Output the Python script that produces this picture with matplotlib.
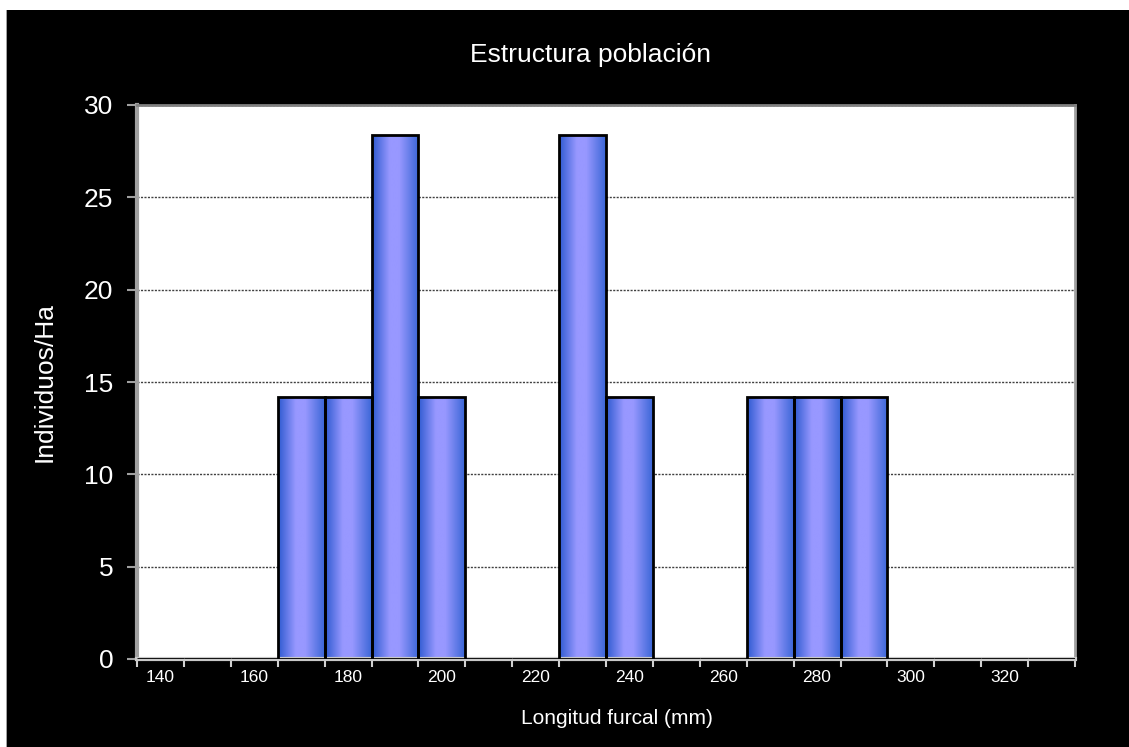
import numpy as np
import matplotlib
matplotlib.use('Agg')
import matplotlib.pyplot as plt
from matplotlib.colors import LinearSegmentedColormap
from matplotlib.patches import Rectangle

plt.rcParams['font.family'] = ['Liberation Sans', 'DejaVu Sans']

# Data: fork length classes (mm) and individuals per hectare
classes = [140, 150, 160, 170, 180, 190, 200, 210, 220, 230,
           240, 250, 260, 270, 280, 290, 300, 310, 320, 330]
density = [0, 0, 0, 14.2, 14.2, 28.4, 14.2, 0, 0, 28.4,
           14.2, 0, 0, 14.2, 14.2, 14.2, 0, 0, 0, 0]
y_ticks = [0, 5, 10, 15, 20, 25, 30]

fig = plt.figure(figsize=(11.29, 7.47), dpi=100)
fig.patch.set_facecolor('black')
# white strips at top and left edge of the image
fig.patches.append(Rectangle((0, 1 - 10 / 747), 1, 10 / 747, transform=fig.transFigure,
                             facecolor='white', edgecolor='none', zorder=0))
fig.patches.append(Rectangle((0, 0), 6 / 1129, 1, transform=fig.transFigure,
                             facecolor='white', edgecolor='none', zorder=0))
fig.patches.append(Rectangle((6 / 1129, 0), 1 / 1129, 1 - 10 / 747, transform=fig.transFigure,
                             facecolor='#a0a0a0', edgecolor='none', zorder=0))

ax = fig.add_axes([137 / 1129, 88 / 747, 938 / 1129, 554 / 747])
ax.set_facecolor('white')

x = np.arange(len(classes))
bars = ax.bar(x, density, width=1, facecolor='none', edgecolor='black', linewidth=2, zorder=3)

# horizontal gradient fill inside each bar
cmap = LinearSegmentedColormap.from_list('bar', [(0, '#2d5ad0'), (0.38, '#9898ff'),
                                                  (0.58, '#9898ff'), (1, '#3a66d6')])
grad = np.linspace(0, 1, 256).reshape(1, -1)
for b in bars:
    if b.get_height() <= 0:
        continue
    x0 = b.get_x()
    im = ax.imshow(grad, cmap=cmap, extent=(x0, x0 + b.get_width(), 0, b.get_height()),
                   aspect='auto', zorder=2, interpolation='bilinear')
    im.set_clip_path(b)

ax.set_xlim(-0.5, len(classes) - 0.5)
ax.set_ylim(0, 30)
ax.set_aspect('auto')

# x axis: ticks at class boundaries, labels on every other class
ax.set_xticks(np.arange(-0.5, len(classes), 1))
ax.set_xticklabels([])
ax.set_xticks(x[::2], minor=True)
ax.set_xticklabels([str(c) for c in classes[::2]], minor=True)
ax.tick_params(axis='x', which='major', direction='out', length=6, width=1.5, color='#d0d0d0')
ax.tick_params(axis='x', which='minor', length=0, pad=8, labelsize=12.5, labelcolor='white')

ax.set_yticks(y_ticks)
ax.tick_params(axis='y', direction='out', length=7, width=1.5, color='#a0a0a0',
               labelsize=19, labelcolor='white', pad=10)

ax.yaxis.grid(True, linestyle=(0, (1.5, 1)), color='#404040', linewidth=1, zorder=1)
ax.set_axisbelow(True)

ax.spines['top'].set_color('#808080')
ax.spines['right'].set_color('#a0a0a0')
ax.spines['left'].set_color('#a0a0a0')
ax.spines['bottom'].set_color('#c8c8c8')
for s in ['top', 'right']:
    ax.spines[s].set_linewidth(2)
for s in ['left', 'bottom']:
    ax.spines[s].set_linewidth(3)

fig.text(617 / 1129, 1 - 718 / 747, 'Longitud furcal (mm)', color='white', fontsize=15,
         ha='center', va='center')
fig.text(45 / 1129, 1 - 382 / 747, 'Individuos/Ha', color='white', fontsize=19,
         ha='center', va='center', rotation=90)
fig.text(591 / 1129, 1 - 55 / 747, 'Estructura población', color='white', fontsize=19,
         ha='center', va='center')

fig.savefig('out.png', dpi=100, facecolor=fig.get_facecolor())
